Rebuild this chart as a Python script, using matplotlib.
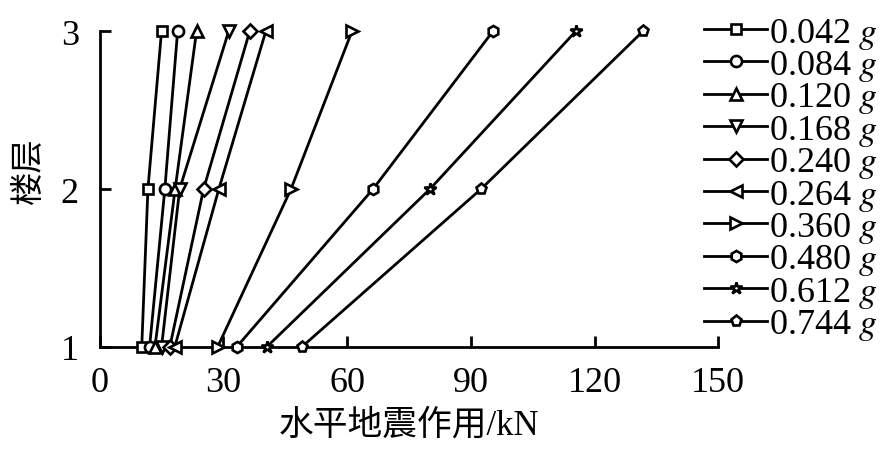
import matplotlib
matplotlib.use("Agg")
import matplotlib.pyplot as plt

plt.rcParams['font.family'] = ['Liberation Serif', 'Noto Sans CJK SC']
plt.rcParams['mathtext.fontset'] = 'stix'

# 楼层
floors = [1, 2, 3]
# 各加速度下的水平地震作用 (kN), 按楼层 1, 2, 3
labels = ['0.042', '0.084', '0.120', '0.168', '0.240',
          '0.264', '0.360', '0.480', '0.612', '0.744']
f_0042 = [10.2, 11.7, 15.0]
f_0084 = [12.1, 15.8, 18.9]
f_0120 = [13.4, 18.3, 23.5]
f_0168 = [15.0, 19.4, 31.3]
f_0240 = [17.0, 25.2, 36.4]
f_0264 = [18.2, 28.9, 40.3]
f_0360 = [28.6, 46.4, 61.2]
f_0480 = [33.2, 66.3, 95.4]
f_0612 = [40.5, 80.1, 115.5]
f_0744 = [49.0, 92.5, 131.8]
series = [f_0042, f_0084, f_0120, f_0168, f_0240,
          f_0264, f_0360, f_0480, f_0612, f_0744]
markers = ['s', 'o', '^', 'v', 'D', '<', '>', 'h', '*', 'p']
msizes = [7, 8, 8, 8, 7, 8, 8, 8, 9, 8]

fig = plt.figure(figsize=(8.9, 4.64), dpi=100)
ax = fig.add_axes([0.112, 0.25, 0.695, 0.681])

for vals, lab, m, ms in zip(series, labels, markers, msizes):
    ax.plot(vals, floors, color='black', lw=2.0, marker=m, ms=ms,
            mfc='white', mec='black', mew=1.9,
            label=lab + r'$\ g$', clip_on=False, zorder=3)

ax.set_xlim(0, 150)
ax.set_ylim(1, 3)
ax.set_xticks([0, 30, 60, 90, 120, 150])
ax.set_yticks([1, 2, 3])
ax.spines['top'].set_visible(False)
ax.spines['right'].set_visible(False)
for s in ['left', 'bottom']:
    ax.spines[s].set_linewidth(2)
ax.tick_params(direction='in', length=8, width=2, labelsize=26, pad=14)
ax.tick_params(axis='y', pad=15)

ax.set_xlabel('水平地震作用/kN', fontsize=25)
ax.xaxis.set_label_coords(0.5, -0.196)
ax.set_ylabel('楼层', fontsize=24)
ax.yaxis.set_label_coords(-0.089, 0.56)

leg = ax.legend(loc='upper left', bbox_to_anchor=(0.771, 1.003),
                bbox_transform=fig.transFigure, frameon=False,
                fontsize=26, handlelength=1.75, handletextpad=0.05,
                labelspacing=-0.072, borderpad=0)

fig.savefig('out.png', dpi=100)
